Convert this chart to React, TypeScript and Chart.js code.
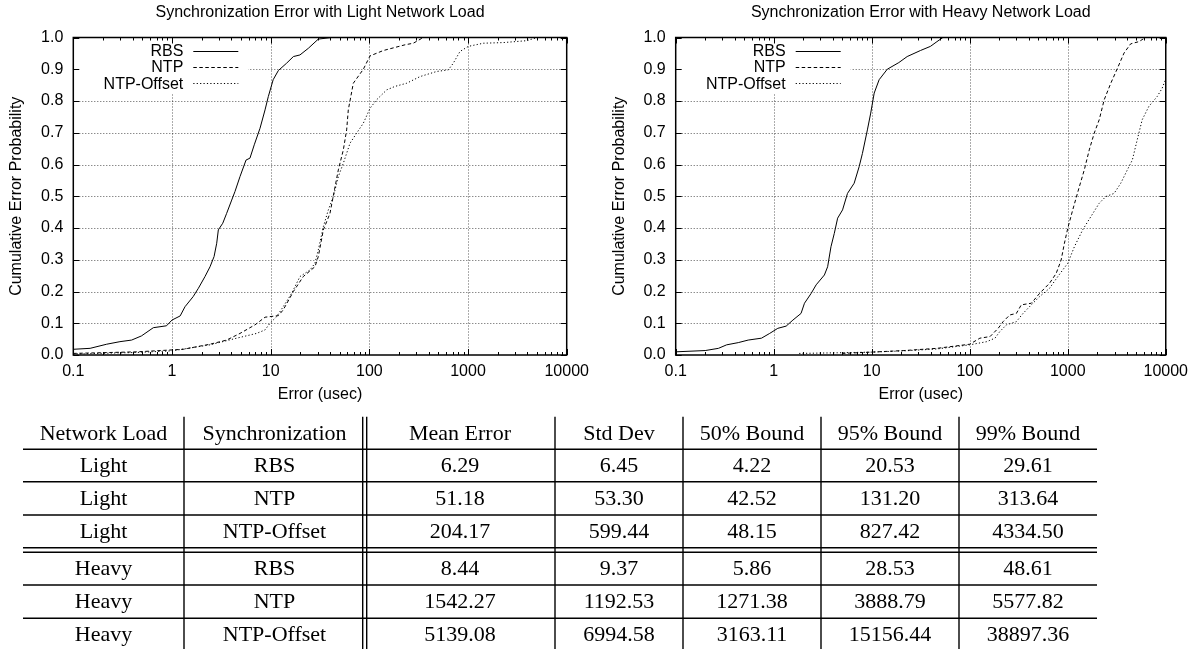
import React, { useEffect, useRef } from "react";
import { Chart, registerables } from "chart.js";

Chart.register(...registerables);

// ---------------- data ----------------
const seriesNames = ["RBS", "NTP", "NTP-Offset"];
const xTickValues = [0.1, 1, 10, 100, 1000, 10000];
const xTickLabels = ["0.1", "1", "10", "100", "1000", "10000"];
const yTickValues = [0, 0.1, 0.2, 0.3, 0.4, 0.5, 0.6, 0.7, 0.8, 0.9, 1.0];
const yTickLabels = ["0.0", "0.1", "0.2", "0.3", "0.4", "0.5", "0.6", "0.7", "0.8", "0.9", "1.0"];

const lightRbsX = [0.1, 0.148, 0.218, 0.297, 0.39, 0.49, 0.647, 0.88, 1.0, 1.21, 1.355, 1.64, 1.85, 2.16, 2.43, 2.67, 2.84, 2.95, 3.27, 3.58, 4.03, 4.35, 4.89, 5.63, 6.17, 6.82, 7.8, 8.77, 9.47, 10.6, 11.97, 14.5, 17.0, 19.8, 24.1, 30.4, 41.5];
const lightRbsY = [0.018, 0.021, 0.034, 0.042, 0.047, 0.06, 0.086, 0.092, 0.11, 0.123, 0.152, 0.184, 0.21, 0.247, 0.278, 0.31, 0.352, 0.394, 0.415, 0.446, 0.488, 0.515, 0.562, 0.614, 0.62, 0.662, 0.714, 0.772, 0.814, 0.867, 0.896, 0.919, 0.94, 0.945, 0.966, 0.995, 1.0];

const lightNtpX = [0.1, 0.44, 1.0, 1.3, 2.43, 3.58, 4.89, 6.94, 8.77, 11.97, 13.4, 17, 21.4, 28.1, 30.4, 34.2, 39.9, 43.0, 48.5, 54.5, 58.9, 61.2, 68.8, 86.9, 101.6, 138.7, 229.8, 279, 352];
const lightNtpY = [0.005, 0.01, 0.016, 0.018, 0.034, 0.047, 0.068, 0.095, 0.119, 0.124, 0.142, 0.2, 0.247, 0.278, 0.31, 0.394, 0.446, 0.499, 0.583, 0.646, 0.709, 0.772, 0.856, 0.9, 0.942, 0.959, 0.977, 0.982, 1.0];

const lightOffX = [0.1, 0.44, 1.0, 2.43, 4.52, 7.2, 8.77, 9.84, 11.5, 13.4, 16.3, 19.8, 25.1, 28.1, 30.4, 34.2, 38.4, 43.2, 48.5, 54.5, 63.7, 74.4, 86.9, 101.6, 118.6, 150, 182, 239, 327, 481, 631, 709, 829, 1007, 1429, 2280, 3934, 4786, 5000];
const lightOffY = [0.003, 0.008, 0.013, 0.032, 0.053, 0.068, 0.079, 0.1, 0.121, 0.152, 0.194, 0.247, 0.268, 0.289, 0.331, 0.404, 0.457, 0.499, 0.562, 0.604, 0.667, 0.699, 0.73, 0.777, 0.804, 0.835, 0.846, 0.856, 0.877, 0.893, 0.898, 0.919, 0.956, 0.972, 0.982, 0.984, 0.99, 0.998, 1.0];

const heavyRbsX = [0.1, 0.2, 0.273, 0.331, 0.435, 0.549, 0.75, 0.91, 1.1, 1.34, 1.57, 1.9, 2.06, 2.41, 2.71, 3.29, 3.55, 3.84, 4.15, 4.49, 5.04, 5.66, 6.62, 7.44, 8.04, 9.03, 9.77, 10.6, 11.9, 14.4, 18.9, 23, 31.4, 39.7, 46.3, 53.2];
const heavyRbsY = [0.01, 0.014, 0.021, 0.032, 0.039, 0.047, 0.053, 0.068, 0.084, 0.091, 0.11, 0.131, 0.163, 0.194, 0.221, 0.252, 0.278, 0.341, 0.383, 0.431, 0.457, 0.509, 0.541, 0.593, 0.635, 0.709, 0.762, 0.825, 0.867, 0.9, 0.921, 0.94, 0.959, 0.972, 0.987, 1.0];

const heavyNtpX = [4.97, 9.8, 21.3, 46.3, 100, 127, 161, 195, 219, 256, 299, 336, 425, 516, 652, 762, 856, 925, 1000, 1124, 1313, 1475, 1658, 1864, 2095, 2355, 2750, 3213, 3752, 4385, 5325, 6220];
const heavyNtpY = [0.005, 0.009, 0.014, 0.021, 0.034, 0.053, 0.058, 0.084, 0.105, 0.126, 0.131, 0.158, 0.163, 0.194, 0.226, 0.257, 0.299, 0.352, 0.399, 0.457, 0.53, 0.583, 0.646, 0.699, 0.741, 0.804, 0.856, 0.903, 0.951, 0.98, 0.987, 1.0];

const heavyOffX = [1.82, 4.49, 9.8, 21.3, 46.3, 100, 149, 181, 203, 237, 299, 350, 425, 516, 652, 792, 1000, 1169, 1419, 1723, 2095, 2447, 2972, 3475, 4055, 4560, 5117, 5750, 6725, 8170, 9180, 9930];
const heavyOffY = [0.005, 0.007, 0.009, 0.013, 0.019, 0.032, 0.042, 0.053, 0.074, 0.095, 0.105, 0.131, 0.158, 0.184, 0.21, 0.247, 0.289, 0.341, 0.394, 0.436, 0.478, 0.499, 0.509, 0.541, 0.583, 0.614, 0.678, 0.741, 0.783, 0.814, 0.84, 0.867];

const tableHeaders = ["Network Load", "Synchronization", "Mean Error", "Std Dev", "50% Bound", "95% Bound", "99% Bound"];
const loadCol = ["Light", "Light", "Light", "Heavy", "Heavy", "Heavy"];
const syncCol = ["RBS", "NTP", "NTP-Offset", "RBS", "NTP", "NTP-Offset"];
const meanErr = ["6.29", "51.18", "204.17", "8.44", "1542.27", "5139.08"];
const stdDev = ["6.45", "53.30", "599.44", "9.37", "1192.53", "6994.58"];
const bound50 = ["4.22", "42.52", "48.15", "5.86", "1271.38", "3163.11"];
const bound95 = ["20.53", "131.20", "827.42", "28.53", "3888.79", "15156.44"];
const bound99 = ["29.61", "313.64", "4334.50", "48.61", "5577.82", "38897.36"];

// ---------------- styling ----------------
const SANS = "'Liberation Sans', Arial, Helvetica, sans-serif";
const SERIF = "'Liberation Serif', 'Times New Roman', serif";
const FONT = { family: SANS, size: 16, weight: "normal" as const };
const DASHES = [[], [3.5, 2.5], [1.2, 2.2]];
const KEY = { width: 175, height: 56, textRight: 110, lineStart: 120, lineEnd: 165, firstRow: 14.2, rowGap: 16.3 };

const gnuplotPlugin = {
  id: "gnuplotStyle",
  beforeDatasetsDraw(chart: any) {
    const { ctx, chartArea: a, scales } = chart;
    const xs = scales.x;
    const ys = scales.y;
    ctx.save();
    ctx.strokeStyle = "rgba(0,0,0,0.65)";
    ctx.lineWidth = 1;
    ctx.setLineDash([1, 2]);
    for (const v of xTickValues) {
      const px = Math.round(xs.getPixelForValue(v)) + 0.5;
      if (px <= a.left + 2 || px >= a.right - 2) continue;
      ctx.beginPath();
      ctx.moveTo(px, a.top);
      ctx.lineTo(px, a.bottom);
      ctx.stroke();
    }
    for (const v of yTickValues) {
      const py = Math.round(ys.getPixelForValue(v)) + 0.5;
      if (py <= a.top + 2 || py >= a.bottom - 2) continue;
      ctx.beginPath();
      ctx.moveTo(a.left, py);
      ctx.lineTo(a.right, py);
      ctx.stroke();
    }
    ctx.setLineDash([]);
    ctx.fillStyle = "#fff";
    ctx.fillRect(a.left, a.top, KEY.width, KEY.height);
    ctx.restore();
  },
  afterDatasetsDraw(chart: any) {
    const { ctx, chartArea: a } = chart;
    ctx.save();
    chart.data.datasets.forEach((ds: any, i: number) => {
      const y = a.top + KEY.firstRow + i * KEY.rowGap;
      ctx.fillStyle = "#000";
      ctx.font = `16px ${SANS}`;
      ctx.textAlign = "right";
      ctx.textBaseline = "middle";
      ctx.fillText(ds.label, a.left + KEY.textRight, y);
      ctx.strokeStyle = "#000";
      ctx.lineWidth = 1;
      ctx.setLineDash(ds.borderDash || []);
      ctx.beginPath();
      ctx.moveTo(a.left + KEY.lineStart, Math.round(y) - 0.5);
      ctx.lineTo(a.left + KEY.lineEnd, Math.round(y) - 0.5);
      ctx.stroke();
    });
    ctx.restore();
  },
  afterDraw(chart: any) {
    const { ctx, chartArea: a, scales } = chart;
    const xs = scales.x;
    const ys = scales.y;
    ctx.save();
    ctx.setLineDash([]);
    ctx.strokeStyle = "#000";
    ctx.lineWidth = 1;
    const tick = (x1: number, y1: number, x2: number, y2: number) => {
      ctx.beginPath();
      ctx.moveTo(x1, y1);
      ctx.lineTo(x2, y2);
      ctx.stroke();
    };
    for (let d = 0; d < xTickValues.length; d++) {
      const dec = xTickValues[d];
      const px = Math.round(xs.getPixelForValue(dec)) + 0.5;
      tick(px, a.bottom, px, a.bottom - 6);
      tick(px, a.top, px, a.top + 6);
      if (d < xTickValues.length - 1) {
        for (let m = 2; m <= 9; m++) {
          const mx = Math.round(xs.getPixelForValue(dec * m)) + 0.5;
          tick(mx, a.bottom, mx, a.bottom - 3);
          tick(mx, a.top, mx, a.top + 3);
        }
      }
    }
    for (const v of yTickValues) {
      const py = Math.round(ys.getPixelForValue(v)) + 0.5;
      tick(a.left, py, a.left + 6, py);
      tick(a.right, py, a.right - 6, py);
    }
    ctx.lineWidth = 1.5;
    ctx.strokeRect(a.left, a.top, a.right - a.left, a.bottom - a.top);
    ctx.restore();
  },
};

type Series = { label: string; xs: number[]; ys: number[] };

function ChartPanel(props: { left: number; width: number; height: number; title: string; series: Series[]; yAxisWidth: number; padRight: number }) {
  const ref = useRef<HTMLCanvasElement>(null);
  useEffect(() => {
    if (!ref.current) return;
    const chart = new Chart(ref.current, {
      type: "line",
      data: {
        datasets: props.series.map((s, i) => ({
          label: s.label,
          data: s.xs.map((x, j) => ({ x, y: s.ys[j] })),
          borderColor: "#000",
          borderWidth: 1,
          borderDash: DASHES[i],
          pointRadius: 0,
          fill: false,
          tension: 0,
        })),
      },
      options: {
        animation: false,
        responsive: false,
        maintainAspectRatio: false,
        events: [],
        layout: { padding: { left: 0, right: props.padRight, top: 0, bottom: 0 } },
        plugins: {
          legend: { display: false },
          tooltip: { enabled: false },
          title: {
            display: true,
            text: props.title,
            color: "#000",
            fullSize: false,
            font: FONT,
            padding: { top: 3, bottom: 15.3 },
          },
        },
        scales: {
          x: {
            type: "logarithmic",
            min: 0.1,
            max: 10000,
            grid: { display: false, drawTicks: false, tickLength: 0 },
            border: { display: false },
            afterBuildTicks: (s: any) => {
              s.ticks = xTickValues.map((v) => ({ value: v }));
            },
            afterFit: (s: any) => {
              s.height = 55;
            },
            ticks: {
              autoSkip: false,
              maxRotation: 0,
              minRotation: 0,
              padding: 7,
              color: "#000",
              font: FONT,
              callback: (_v: any, i: number) => xTickLabels[i],
            },
            title: { display: true, text: "Error (usec)", color: "#000", font: FONT, padding: { top: 0, bottom: 6 } },
          },
          y: {
            type: "linear",
            min: 0,
            max: 1,
            grid: { display: false, drawTicks: false, tickLength: 0 },
            border: { display: false },
            afterBuildTicks: (s: any) => {
              s.ticks = yTickValues.map((v) => ({ value: v }));
            },
            afterFit: (s: any) => {
              s.width = props.yAxisWidth;
            },
            ticks: {
              autoSkip: false,
              padding: 10,
              color: "#000",
              font: FONT,
              callback: (_v: any, i: number) => yTickLabels[i],
            },
            title: { display: true, text: "Cumulative Error Probability", color: "#000", font: FONT, padding: { top: 7, bottom: 0 } },
          },
        },
      } as any,
      plugins: [gnuplotPlugin as any],
    });
    return () => chart.destroy();
  }, []);
  return (
    <canvas
      ref={ref}
      width={props.width}
      height={props.height}
      style={{ position: "absolute", left: props.left, top: 0, width: props.width, height: props.height }}
    />
  );
}

// table layout
const COL_EDGES = [23, 184, 365, 555, 683, 821, 959, 1097];
const V_LINES = [184, 362.7, 366.7, 555, 683, 821, 959];
const H_LINES = [449.3, 481.7, 515, 547.7, 552.3, 585, 618.3];
const TABLE_TOP = 416.7;
const BASELINES = [440, 472, 505, 538, 575, 608, 641];

function DataTable() {
  const columns = [loadCol, syncCol, meanErr, stdDev, bound50, bound95, bound99];
  const centers = COL_EDGES.slice(0, -1).map((l, i) => (l + COL_EDGES[i + 1]) / 2);
  return (
    <svg width={1195} height={649} style={{ position: "absolute", left: 0, top: 0 }}>
      {V_LINES.map((x, i) => (
        <line key={"v" + i} x1={x} x2={x} y1={TABLE_TOP} y2={660} stroke="#000" strokeWidth={1.4} />
      ))}
      {H_LINES.map((y, i) => (
        <line key={"h" + i} x1={COL_EDGES[0]} x2={COL_EDGES[COL_EDGES.length - 1]} y1={y} y2={y} stroke="#000" strokeWidth={1.4} />
      ))}
      {tableHeaders.map((h, c) => (
        <text key={"th" + c} x={centers[c]} y={BASELINES[0]} textAnchor="middle" fontFamily={SERIF} fontSize={22} fill="#000">
          {h}
        </text>
      ))}
      {columns.map((col, c) =>
        col.map((val, r) => (
          <text key={"td" + c + "_" + r} x={centers[c]} y={BASELINES[r + 1]} textAnchor="middle" fontFamily={SERIF} fontSize={22} fill="#000">
            {val}
          </text>
        ))
      )}
    </svg>
  );
}

export default function App() {
  const lightSeries: Series[] = [
    { label: seriesNames[0], xs: lightRbsX, ys: lightRbsY },
    { label: seriesNames[1], xs: lightNtpX, ys: lightNtpY },
    { label: seriesNames[2], xs: lightOffX, ys: lightOffY },
  ];
  const heavySeries: Series[] = [
    { label: seriesNames[0], xs: heavyRbsX, ys: heavyRbsY },
    { label: seriesNames[1], xs: heavyNtpX, ys: heavyNtpY },
    { label: seriesNames[2], xs: heavyOffX, ys: heavyOffY },
  ];
  return (
    <div style={{ position: "absolute", left: 0, top: 0, width: 1195, height: 649, overflow: "hidden", background: "#fff" }}>
      <ChartPanel left={0} width={600} height={410} title="Synchronization Error with Light Network Load" series={lightSeries} yAxisWidth={73.3} padRight={33.3} />
      <ChartPanel left={603} width={592} height={410} title="Synchronization Error with Heavy Network Load" series={heavySeries} yAxisWidth={72.7} padRight={26.3} />
      <DataTable />
    </div>
  );
}
